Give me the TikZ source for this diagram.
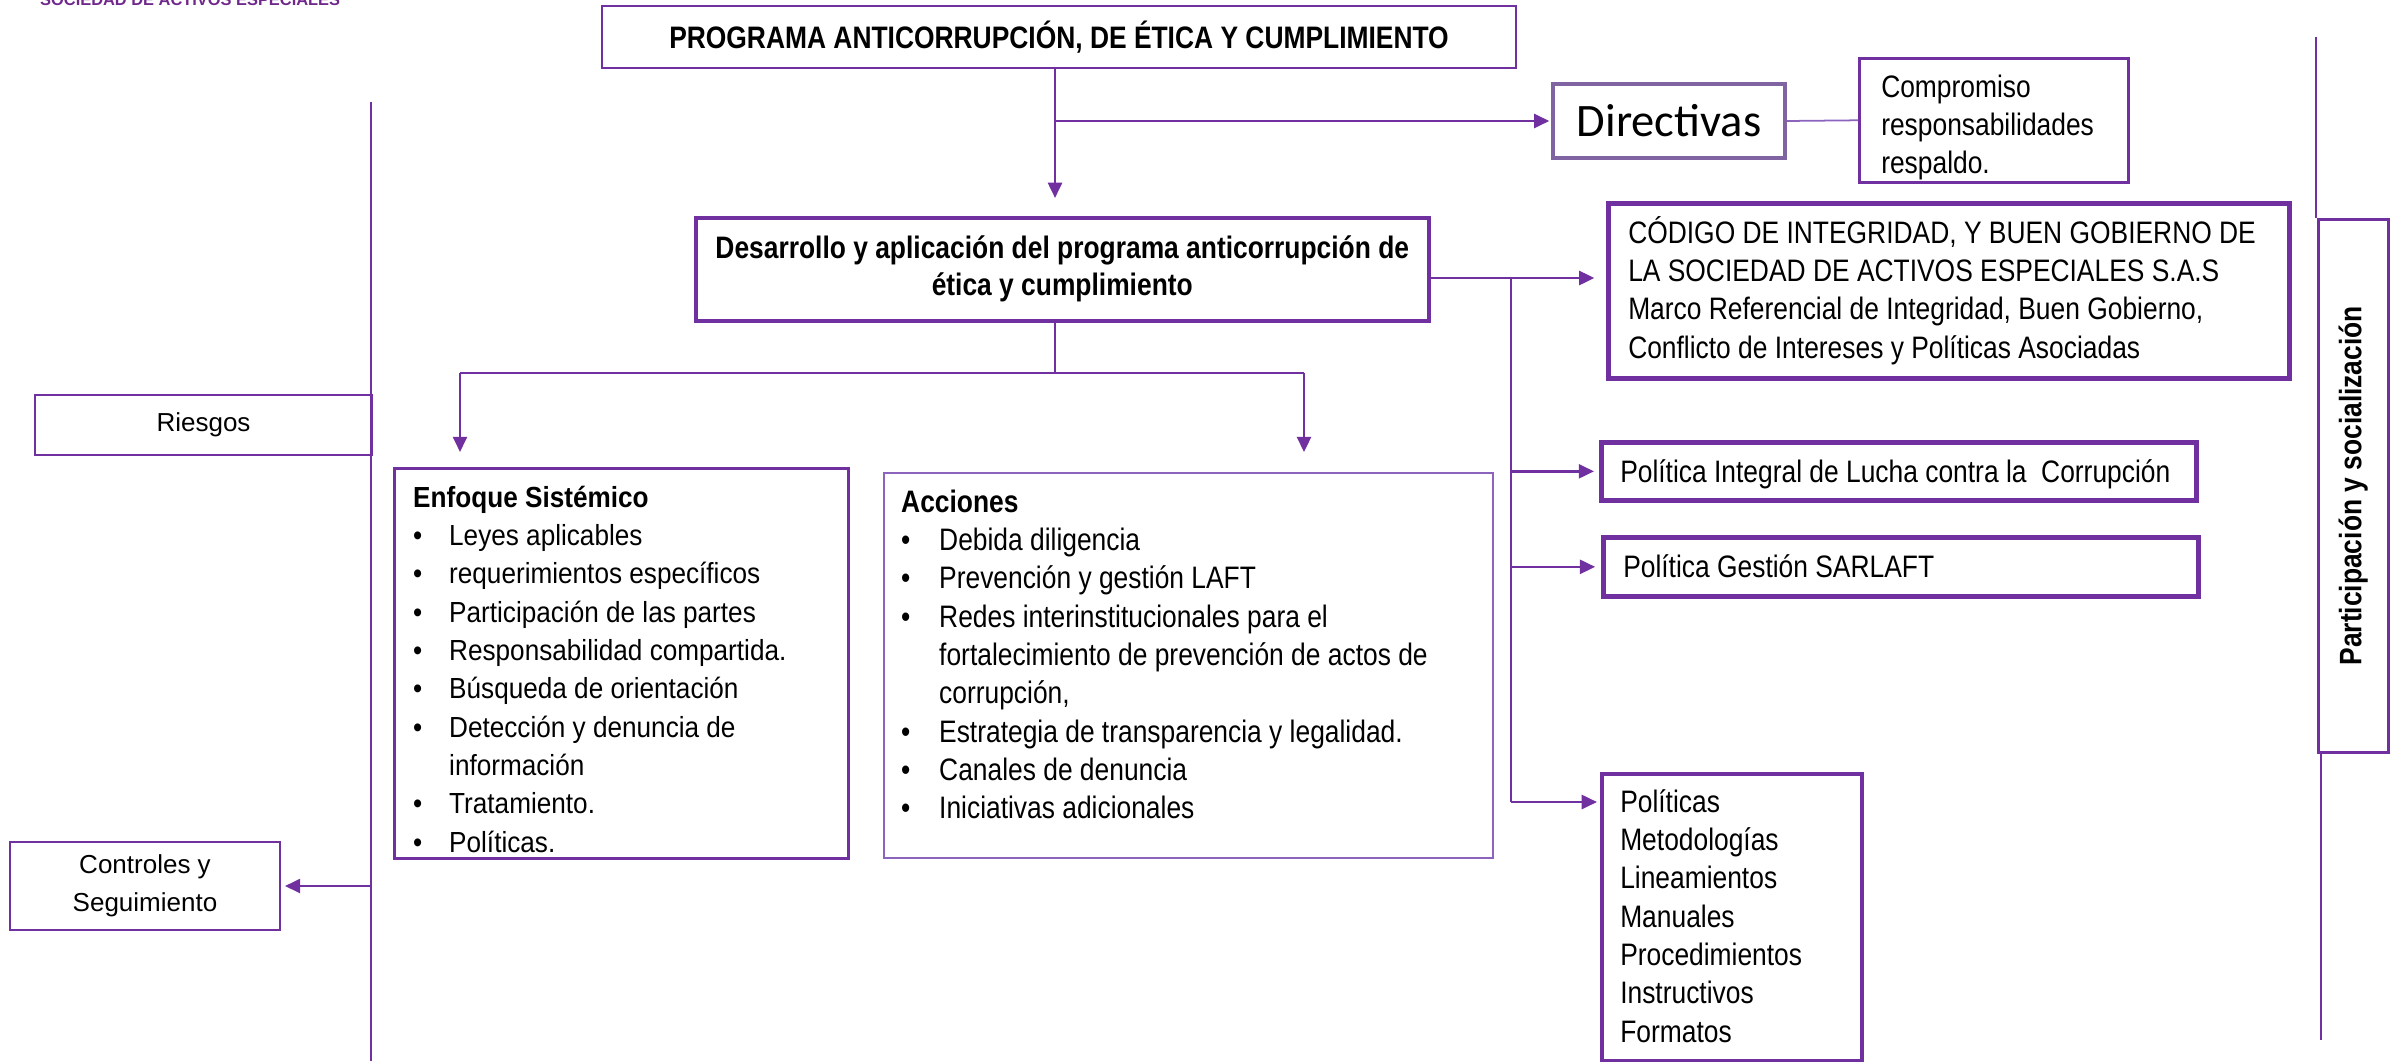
\documentclass[tikz,border=0pt]{standalone}
\usepackage{fontspec}
\setmainfont{Liberation Sans}
\newfontfamily\nar[FakeStretch=0.85]{Liberation Sans}
\newfontfamily\narE[FakeStretch=0.9]{Liberation Sans}
\newfontfamily\calib{Carlito}
\usetikzlibrary{arrows.meta}
\definecolor{purp}{RGB}{112,48,160}
\definecolor{mpurp}{RGB}{128,100,162}
\definecolor{lpurp}{RGB}{140,100,190}
\definecolor{tlc}{RGB}{112,40,140}
\newcommand\fN{\nar\fontsize{26.5pt}{32.7pt}\selectfont}
\newcommand\fE{\narE\fontsize{24.8pt}{32.7pt}\selectfont}
\newcommand\fR{\fontsize{22.2pt}{32.7pt}\selectfont}
\newcommand\bulE{\makebox[30.7pt][l]{\textbullet}}
\newcommand\bulA{\makebox[32.4pt][l]{\textbullet}}
\begin{document}
\begin{tikzpicture}[x=0.03cm,y=-0.03cm,
  bx/.style={draw=purp, inner sep=0, anchor=north west},
  txt/.style={anchor=north west, inner sep=0, align=left},
  con/.style={draw=purp, line width=2pt},
  arr/.style={con, -{Triangle[length=13pt,width=12pt]}}]
\useasboundingbox (0,0) rectangle (2392,1061);
\begin{scope}
\clip (0,0) rectangle (2392,1061);
% header text (cut off at top, as in the original)
\node[anchor=base west, inner sep=0, text=tlc, font=\bfseries\fontsize{14pt}{14pt}\selectfont] (soc) at (40,5) {SOCIEDAD DE ACTIVOS ESPECIALES};
% boxes
\node[bx, line width=1.7pt, minimum width=27.42cm, minimum height=1.86cm, font=\nar\bfseries\fontsize{26.5pt}{30pt}\selectfont] (title) at (601,5) {PROGRAMA ANTICORRUPCIÓN, DE ÉTICA Y CUMPLIMIENTO};
\node[bx, draw=mpurp, line width=3.4pt, minimum width=6.96cm, minimum height=2.22cm, font=\calib\fontsize{39.7pt}{40pt}\selectfont] (dir) at (1551,82) {Directivas};
\node[bx, line width=2.2pt, minimum width=8.07cm, minimum height=3.72cm] (comp) at (1858,57) {};
\node[bx, line width=3pt, minimum width=21.99cm, minimum height=3.09cm, align=center, font=\nar\bfseries\fontsize{26.5pt}{31.6pt}\selectfont] (des) at (694,216) {Desarrollo y aplicación del programa anticorrupción de\\ ética y cumplimiento};
\node[bx, line width=4.5pt, minimum width=20.43cm, minimum height=5.25cm] (cod) at (1606,201) {};
\node[bx, line width=4pt, minimum width=17.85cm, minimum height=1.74cm] (pol1) at (1599,440) {};
\node[bx, line width=4pt, minimum width=17.85cm, minimum height=1.77cm] (pol2) at (1601,535) {};
\node[bx, line width=3.5pt, minimum width=7.8cm, minimum height=8.61cm] (pols) at (1600,772) {};
\node[bx, line width=2.2pt, minimum width=13.62cm, minimum height=11.7cm] (enf) at (393,467) {};
\node[bx, draw=lpurp, line width=1.5pt, minimum width=18.27cm, minimum height=11.55cm] (acc) at (883,472) {};
\node[bx, line width=1.7pt, minimum width=10.11cm, minimum height=1.8cm, font=\fR] (ries) at (34,394) {Riesgos};
\node[bx, line width=1.7pt, minimum width=8.1cm, minimum height=2.64cm, align=center, font=\fontsize{22.2pt}{32.4pt}\selectfont] (ctl) at (9,841) {Controles y\\ Seguimiento};
\node[bx, line width=2.2pt, minimum width=2.1cm, minimum height=15.99cm] (part) at (2317,218) {};
\node[rotate=90, inner sep=0, font=\nar\bfseries\fontsize{26.5pt}{30pt}\selectfont] (partt) at (part.center) {Participación y socialización};
% texts
\node[txt, font=\fN] (compt) at (1881,66) {\rule{0pt}{1em}Compromiso\\ responsabilidades\\ respaldo.};
\node[txt, font=\fN] (codt) at (1628,212) {\rule{0pt}{1em}CÓDIGO DE INTEGRIDAD, Y BUEN GOBIERNO DE\\ LA SOCIEDAD DE ACTIVOS ESPECIALES S.A.S\\ Marco Referencial de Integridad, Buen Gobierno,\\ Conflicto de Intereses y Políticas Asociadas};
\node[anchor=base west, inner sep=0, font=\fN] (pol1t) at (1620,482) {Política Integral de Lucha contra la\ \ Corrupción};
\node[anchor=base west, inner sep=0, font=\fN] (pol2t) at (1623,577) {Política Gestión SARLAFT};
\node[txt, font=\fN] (polst) at (1620,781) {\rule{0pt}{1em}Políticas\\ Metodologías\\ Lineamientos\\ Manuales\\ Procedimientos\\ Instructivos\\ Formatos};
\node[txt, font=\fE] (enft) at (413,478) {\rule{0pt}{1em}\textbf{Enfoque Sistémico}\\
\bulE Leyes aplicables\\
\bulE requerimientos específicos\\
\bulE Participación de las partes\\
\bulE Responsabilidad compartida.\\
\bulE Búsqueda de orientación\\
\bulE Detección y denuncia de\\
\hspace*{30.7pt}información\\
\bulE Tratamiento.\\
\bulE Políticas.};
\node[txt, font=\fN] (acct) at (901,481) {\rule{0pt}{1em}\textbf{Acciones}\\
\bulA Debida diligencia\\
\bulA Prevención y gestión LAFT\\
\bulA Redes interinstitucionales para el\\
\hspace*{32.4pt}fortalecimiento de prevención de actos de\\
\hspace*{32.4pt}corrupción,\\
\bulA Estrategia de transparencia y legalidad.\\
\bulA Canales de denuncia\\
\bulA Iniciativas adicionales};
% coordinates
\coordinate (sp) at (1055,373);
\coordinate (el) at (460,373);
\coordinate (er) at (1304,373);
\coordinate (y278) at (0,278);
\coordinate (bt) at (1511,278);
\coordinate (bb) at (1511,802);
\coordinate (lt) at (371,102);
\coordinate (lb) at (371,1061);
\coordinate (rt) at (2316,37);
\coordinate (rb) at (2321,1040);
% connectors
\draw[arr, shorten >=15.4pt] (sp |- title.south) -- (sp |- des.north);
\draw[arr, shorten >=1.5pt] (sp |- dir.west) -- (dir.west);
\draw[con, draw=lpurp, line width=1.5pt] (dir.east) -- (comp.west);
\draw[arr, line width=2.4pt, shorten >=10pt] (des.east |- y278) -- (cod.west |- y278);
\draw[con] (bt) -- (bb);
\draw[arr, shorten >=4.3pt] (bt |- pol1.west) -- (pol1.west);
\draw[arr, shorten >=5pt] (bt |- pol2.west) -- (pol2.west);
\draw[arr, shorten >=2.6pt] (bb) -- (bb -| pols.west);
\draw[con] (sp |- des.south) -- (sp);
\draw[con] (el) -- (er);
\draw[arr, shorten >=12.8pt] (el) -- (el |- enf.north);
\draw[arr, shorten >=17pt] (er) -- (er |- acc.north);
\draw[con] (lt) -- (lb);
\draw[arr, shorten >=3.4pt] (lt |- ctl.east) -- (ctl.east);
\draw[con, line width=1.7pt] (rt) -- (rt |- part.north);
\draw[con, line width=1.7pt] (rb |- part.south) -- (rb);
\end{scope}
\end{tikzpicture}
\end{document}
